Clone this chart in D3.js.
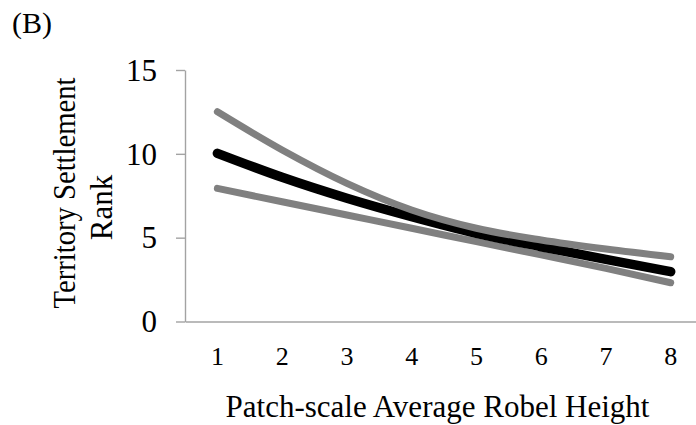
<!DOCTYPE html>
<html>
<head>
<meta charset="utf-8">
<script src="https://cdn.jsdelivr.net/npm/d3@7/dist/d3.min.js"></script>
<style>
  html, body { margin: 0; padding: 0; background: #fff; }
  svg { display: block; }
  text { font-family: "Liberation Serif", "Times New Roman", serif; fill: #000; }
</style>
</head>
<body>
<svg id="chart" width="696" height="425"></svg>
<script>
// Patch-scale average Robel height (categories)
const heights = [1, 2, 3, 4, 5, 6, 7, 8];
// Predicted territory settlement rank with upper / lower bounds
const rankFit   = [10.03, 8.60, 7.35, 6.25, 5.26, 4.46, 3.71, 2.97];
const rankUpper = [12.51, 10.23, 8.24, 6.65, 5.56, 4.86, 4.32, 3.86];
const rankLower = [7.94, 7.14, 6.35, 5.56, 4.76, 3.97, 3.17, 2.31];
const rankTicks = [0, 5, 10, 15];

const svg = d3.select("#chart");
const axisColor = "#a3a3a3";

const plotLeft = 185, plotTop = 70, plotBottom = 321.5, step = 64.76;

const x = d3.scaleBand()
  .domain(heights)
  .range([plotLeft, plotLeft + step * heights.length])
  .paddingInner(0).paddingOuter(0);

const y = d3.scaleLinear().domain([0, 15]).range([plotBottom, plotTop]);

// Y axis
const yAxis = svg.append("g")
  .attr("transform", `translate(${plotLeft},0)`)
  .call(d3.axisLeft(y).tickValues(rankTicks).tickSize(9).tickSizeOuter(0).tickPadding(19));
yAxis.select(".domain").attr("stroke", axisColor).attr("stroke-width", 1.4);
yAxis.selectAll(".tick line").attr("stroke", axisColor).attr("stroke-width", 1.4);
yAxis.selectAll(".tick text")
  .attr("font-size", 31)
  .attr("font-family", "Liberation Serif, Times New Roman, serif")
  .attr("dy", "0.33em")
  .attr("fill", "#000");

// X axis
const xAxis = svg.append("g")
  .attr("transform", `translate(0,${plotBottom})`)
  .call(d3.axisBottom(x).tickSize(0).tickSizeOuter(0).tickPadding(25));
xAxis.select(".domain").attr("stroke", axisColor).attr("stroke-width", 1.4);
xAxis.selectAll(".tick text")
  .attr("font-size", 26)
  .attr("font-family", "Liberation Serif, Times New Roman, serif")
  .attr("fill", "#000");

const cx = d => x(d) + x.bandwidth() / 2;

const line = d3.line()
  .x((d, i) => cx(heights[i]))
  .y(d => y(d))
  .curve(d3.curveMonotoneX);

const series = [
  { values: rankLower, color: "#808080", width: 7 },
  { values: rankFit,   color: "#000000", width: 9.5 },
  { values: rankUpper, color: "#808080", width: 7 }
];

svg.append("g").selectAll("path")
  .data(series)
  .join("path")
  .attr("d", s => line(s.values))
  .attr("fill", "none")
  .attr("stroke", s => s.color)
  .attr("stroke-width", s => s.width)
  .attr("stroke-linecap", "round")
  .attr("stroke-linejoin", "round");

// Axis titles
svg.append("text")
  .attr("x", 437.5).attr("y", 417)
  .attr("text-anchor", "middle")
  .attr("font-size", 31)
  .text("Patch-scale Average Robel Height");

svg.append("text")
  .attr("transform", "translate(75,193) rotate(-90)")
  .attr("text-anchor", "middle")
  .attr("font-size", 31)
  .attr("textLength", 231)
  .attr("lengthAdjust", "spacingAndGlyphs")
  .text("Territory Settlement");

svg.append("text")
  .attr("transform", "translate(112,207.5) rotate(-90)")
  .attr("text-anchor", "middle")
  .attr("font-size", 31)
  .text("Rank");

// Panel label
svg.append("text")
  .attr("x", 12).attr("y", 33)
  .attr("font-size", 30)
  .text("(B)");
</script>
</body>
</html>
